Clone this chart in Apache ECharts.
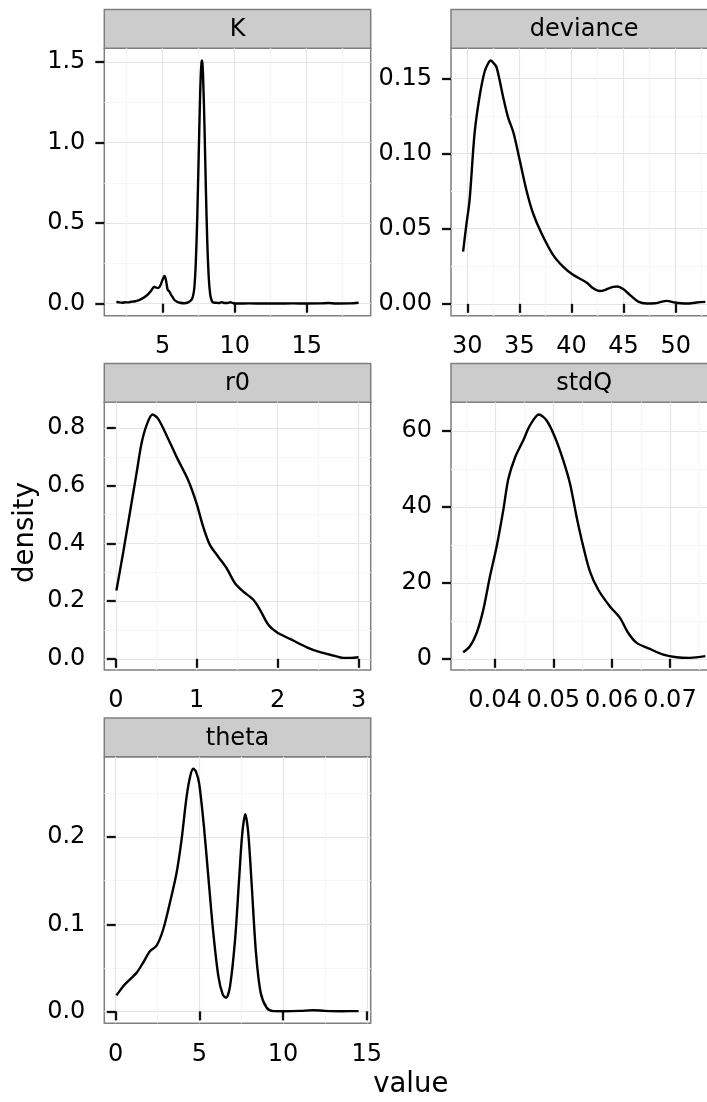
<!DOCTYPE html>
<html><head><meta charset="utf-8">
<script src="https://cdn.jsdelivr.net/npm/echarts@6/dist/echarts.min.js"></script>
<style>html,body{margin:0;padding:0;background:#fff}#c{width:707px;height:1102px}</style>
</head><body><div id="c"></div>
<script>
// ---------------- data ----------------
const panelNames = ['K', 'deviance', 'r0', 'stdQ', 'theta'];

const K_x = [1.79, 2.0, 2.2, 2.4, 2.6, 2.8, 3.0, 3.2, 3.4, 3.6, 3.8, 4.0, 4.2, 4.42, 4.55, 4.72, 4.85, 5.0, 5.12, 5.22, 5.35, 5.45, 5.59, 5.7, 5.82, 6.0, 6.2, 6.5, 6.8, 7.0, 7.1, 7.2, 7.3, 7.4, 7.5, 7.6, 7.65, 7.7, 7.725, 7.75, 7.8, 7.9, 8.0, 8.1, 8.2, 8.3, 8.4, 8.5, 8.7, 8.9, 9.1, 9.3, 9.5, 9.7, 9.9, 10.2, 11, 12, 13, 14, 15, 16, 16.5, 17, 18, 18.6];
const K_y = [0.012, 0.008, 0.006, 0.009, 0.008, 0.012, 0.014, 0.018, 0.024, 0.033, 0.045, 0.06, 0.08, 0.105, 0.100, 0.098, 0.115, 0.150, 0.172, 0.150, 0.085, 0.078, 0.054, 0.040, 0.023, 0.012, 0.006, 0.003, 0.010, 0.025, 0.045, 0.099, 0.254, 0.532, 0.916, 1.294, 1.428, 1.50, 1.51, 1.50, 1.428, 1.116, 0.715, 0.376, 0.163, 0.058, 0.02, 0.008, 0.006, 0.004, 0.010, 0.004, 0.004, 0.009, 0.003, 0.001, 0.002, 0.001, 0.001, 0.002, 0.001, 0.002, 0.004, 0.001, 0.002, 0.006];

const deviance_x = [29.6, 29.9, 30.22, 30.7, 31.18, 31.66, 32.0, 32.24, 32.5, 32.79, 33.1, 33.43, 33.9, 34.45, 35.03, 35.67, 36.31, 37.12, 38.23, 39.19, 40.15, 41.44, 42.08, 42.72, 43.1, 43.52, 44.0, 44.4, 44.96, 45.6, 46.4, 47.2, 48.0, 48.5, 49.13, 49.93, 50.5, 51.06, 52.0, 52.84];
const deviance_y = [0.0348, 0.052, 0.069, 0.1135, 0.138, 0.1545, 0.160, 0.162, 0.1605, 0.1578, 0.149, 0.138, 0.1245, 0.1135, 0.0957, 0.0758, 0.0603, 0.047, 0.0326, 0.0248, 0.0193, 0.0142, 0.0104, 0.0086, 0.0090, 0.0102, 0.0113, 0.0115, 0.0098, 0.006, 0.0015, 0.0002, 0.0004, 0.0011, 0.002, 0.0009, 0.0004, 0.0002, 0.0009, 0.0013];

const r0_x = [0.008, 0.09, 0.173, 0.256, 0.318, 0.38, 0.454, 0.524, 0.627, 0.751, 0.895, 0.998, 1.08, 1.163, 1.266, 1.37, 1.473, 1.576, 1.70, 1.782, 1.885, 1.99, 2.153, 2.36, 2.525, 2.69, 2.81, 2.90, 3.0];
const r0_y = [0.237, 0.366, 0.504, 0.642, 0.746, 0.809, 0.847, 0.832, 0.775, 0.700, 0.619, 0.539, 0.458, 0.395, 0.354, 0.314, 0.262, 0.233, 0.205, 0.170, 0.118, 0.092, 0.069, 0.040, 0.023, 0.0114, 0.0035, 0.0035, 0.0055];

const stdQ_x = [0.03454, 0.03571, 0.03686, 0.038, 0.03914, 0.04029, 0.04143, 0.04229, 0.04343, 0.04486, 0.046, 0.04754, 0.04886, 0.05029, 0.05171, 0.05286, 0.054, 0.05514, 0.05629, 0.05771, 0.05971, 0.06143, 0.06286, 0.06429, 0.06657, 0.06886, 0.07114, 0.07343, 0.07606];
const stdQ_y = [1.73, 3.3, 6.8, 12.9, 21.7, 29.6, 39.2, 47.4, 53.0, 57.6, 61.5, 64.4, 62.8, 58.4, 52.3, 46.2, 37.4, 29.6, 23.0, 18.2, 13.8, 10.8, 6.8, 4.2, 2.6, 1.1, 0.4, 0.26, 0.7];

const theta_x = [0.04, 0.54, 1.24, 1.63, 2.04, 2.44, 2.83, 3.23, 3.63, 3.93, 4.23, 4.45, 4.63, 4.8, 4.99, 5.27, 5.53, 5.83, 6.13, 6.39, 6.59, 6.83, 7.13, 7.38, 7.56, 7.74, 7.92, 8.13, 8.38, 8.66, 9.02, 9.42, 10.0, 11.0, 11.8, 12.5, 13.5, 14.51];
const theta_y = [0.0183, 0.0309, 0.0442, 0.0557, 0.0689, 0.0754, 0.0937, 0.1242, 0.1585, 0.1966, 0.246, 0.270, 0.2785, 0.275, 0.261, 0.212, 0.155, 0.090, 0.0404, 0.0194, 0.0156, 0.029, 0.0823, 0.1547, 0.2042, 0.2263, 0.2042, 0.1432, 0.067, 0.0214, 0.0042, 0.0003, 0.0002, 0.0005, 0.0013, 0.0006, 0.0002, 0.0003];

// tick values and labels
const K_xTicks = [5, 10, 15];              const K_xLabels = ['5', '10', '15'];
const K_yTicks = [0, 0.5, 1.0, 1.5];       const K_yLabels = ['0.0', '0.5', '1.0', '1.5'];
const deviance_xTicks = [30, 35, 40, 45, 50]; const deviance_xLabels = ['30', '35', '40', '45', '50'];
const deviance_yTicks = [0, 0.05, 0.10, 0.15]; const deviance_yLabels = ['0.00', '0.05', '0.10', '0.15'];
const r0_xTicks = [0, 1, 2, 3];            const r0_xLabels = ['0', '1', '2', '3'];
const r0_yTicks = [0, 0.2, 0.4, 0.6, 0.8]; const r0_yLabels = ['0.0', '0.2', '0.4', '0.6', '0.8'];
const stdQ_xTicks = [0.04, 0.05, 0.06, 0.07]; const stdQ_xLabels = ['0.04', '0.05', '0.06', '0.07'];
const stdQ_yTicks = [0, 20, 40, 60];       const stdQ_yLabels = ['0', '20', '40', '60'];
const theta_xTicks = [0, 5, 10, 15];       const theta_xLabels = ['0', '5', '10', '15'];
const theta_yTicks = [0, 0.1, 0.2];        const theta_yLabels = ['0.0', '0.1', '0.2'];

const xTitle = 'value';
const yTitle = 'density';

// ---------------- layout / style ----------------
const FONT = 'DejaVu Sans';
const L = {
  colLeft: [104.3, 451], width: 266.4,
  rowTop: [48.3, 402.3, 756.7], rowH: [267.4, 267.7, 266.6],
  stripH: 38.7
};
const place = [[0, 0], [1, 0], [0, 1], [1, 1], [0, 2]];

const panels = [
  {x: K_x, y: K_y, xt: K_xTicks, xl: K_xLabels, yt: K_yTicks, yl: K_yLabels},
  {x: deviance_x, y: deviance_y, xt: deviance_xTicks, xl: deviance_xLabels, yt: deviance_yTicks, yl: deviance_yLabels},
  {x: r0_x, y: r0_y, xt: r0_xTicks, xl: r0_xLabels, yt: r0_yTicks, yl: r0_yLabels},
  {x: stdQ_x, y: stdQ_y, xt: stdQ_xTicks, xl: stdQ_xLabels, yt: stdQ_yTicks, yl: stdQ_yLabels},
  {x: theta_x, y: theta_y, xt: theta_xTicks, xl: theta_xLabels, yt: theta_yTicks, yl: theta_yLabels}
];

function expandLim(arr) {
  const mn = Math.min(...arr), mx = Math.max(...arr), r = mx - mn;
  return [mn - 0.05 * r, mx + 0.05 * r];
}

function axisCfg(gi, lim, ticks, labels, isX) {
  const step = Number((ticks[1] - ticks[0]).toPrecision(6));
  return {
    type: 'value', gridIndex: gi, min: lim[0], max: lim[1],
    minInterval: step, maxInterval: step,
    axisLine: {show: false},
    axisTick: {show: true, inside: false, length: 9, customValues: ticks,
      lineStyle: {color: '#111', width: 2.3}},
    axisLabel: {show: true, customValues: ticks, margin: isX ? 19 : 19, color: '#000',
      fontFamily: FONT, fontSize: 24, hideOverlap: false,
      formatter: function (v) {
        const i = ticks.findIndex(t => Math.abs(t - v) < step * 1e-6);
        return i >= 0 ? labels[i] : '';
      }},
    splitLine: {show: true, lineStyle: {color: '#E5E5E5', width: 1.2}},
    minorTick: {show: false, splitNumber: 2},
    minorSplitLine: {show: true, lineStyle: {color: '#F6F6F6', width: 1.2}}
  };
}

const grids = [], xAxes = [], yAxes = [], series = [], graphics = [];
panels.forEach((p, i) => {
  const [c, r] = place[i];
  const left = L.colLeft[c], top = L.rowTop[r], w = L.width, h = L.rowH[r];
  grids.push({left: left, top: top, width: w, height: h, show: true,
    backgroundColor: '#fff', borderColor: '#7F7F7F', borderWidth: 1.5,
    containLabel: false, outerBoundsMode: 'none'});
  xAxes.push(axisCfg(i, expandLim(p.x), p.xt, p.xl, true));
  yAxes.push(axisCfg(i, expandLim(p.y), p.yt, p.yl, false));
  series.push({
    type: 'line', name: panelNames[i], xAxisIndex: i, yAxisIndex: i,
    data: p.x.map((v, j) => [v, p.y[j]]),
    showSymbol: false, symbol: 'none', smooth: 0.3, clip: true,
    lineStyle: {color: '#000', width: 2.4}, silent: true, animation: false
  });
  graphics.push({type: 'rect', silent: true,
    shape: {x: left, y: top - L.stripH, width: w, height: L.stripH},
    style: {fill: '#CCCCCC', stroke: '#7F7F7F', lineWidth: 1.5}});
  graphics.push({type: 'text', silent: true, x: left + w / 2, y: top - L.stripH / 2 + 1,
    style: {text: panelNames[i], fill: '#000', font: '24px "' + FONT + '"',
      align: 'center', verticalAlign: 'middle'}});
});
graphics.push({type: 'text', silent: true, x: 26, y: 532.5, rotation: Math.PI / 2,
  style: {text: yTitle, fill: '#000', font: '27.5px "' + FONT + '"', align: 'center', verticalAlign: 'middle'}});
graphics.push({type: 'text', silent: true, x: 410.8, y: 1085,
  style: {text: xTitle, fill: '#000', font: '27.5px "' + FONT + '"', align: 'center', verticalAlign: 'middle'}});

const chart = echarts.init(document.getElementById('c'), null, {renderer: 'canvas', width: 707, height: 1102});
chart.setOption({
  animation: false,
  backgroundColor: '#fff',
  grid: grids, xAxis: xAxes, yAxis: yAxes, series: series,
  graphic: {elements: graphics}
});
</script>
</body></html>
